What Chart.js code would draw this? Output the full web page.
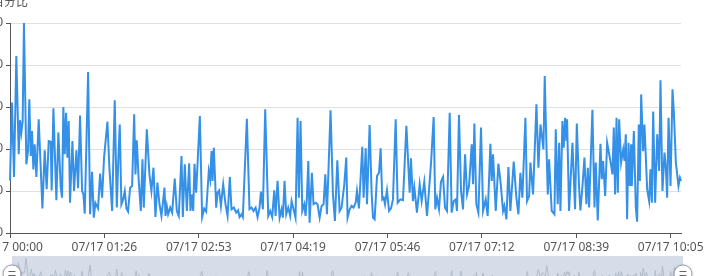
<!DOCTYPE html>
<html>
<head>
<meta charset="utf-8">
<script src="https://cdn.jsdelivr.net/npm/chart.js@4"></script>
<style>
  html, body { margin: 0; padding: 0; background: #fff; }
  body { width: 728px; height: 276px; overflow: hidden; position: relative; }
  #main { position: absolute; left: -40px; top: 0; }
  #zoom { position: absolute; left: 0; top: 256px; }
</style>
</head>
<body>
<canvas id="main" width="768" height="276"></canvas>
<canvas id="zoom" width="700" height="40"></canvas>
<script>
// ---- data (minutes since 07/17 00:00, percentage values) ----
const minutes = [
  0, 1.8, 3.7, 5.8, 8.0, 9.2, 10.4, 11.6, 12.8, 15.0,
  16.5, 17.7, 19.0, 20.2, 21.4, 22.6, 24.2, 26.3, 29.7, 31.8,
  33.6, 35.5, 37.3, 38.2, 39.8, 42.5, 44.3, 46.5, 47.7, 48.9,
  50.2, 51.4, 52.6, 53.8, 55.0, 57.2, 58.7, 60.9, 62.4, 64.2,
  66.1, 67.3, 68.5, 71.6, 73.4, 75.2, 76.8, 78.3, 80.7, 82.6,
  84.4, 86.2, 89.3, 91.1, 93.6, 96.0, 97.9, 99.1, 100.6, 102.1,
  103.7, 105.2, 106.7, 108.2, 110.1, 111.9, 113.8, 115.0, 116.2, 118.0,
  119.9, 121.4,
  122.6, 125.4, 127.8, 129.6, 131.5, 133.3, 135.1, 137.0, 138.8, 140.0,
  141.6, 142.5, 143.7, 144.9, 146.8, 148.6, 151.0, 152.9, 154.7, 157.2,
  158.4, 160.2, 162.1, 164.2, 165.4, 167.0, 167.9, 169.1, 170.6, 171.8,
  174.0, 176.1, 178.0, 179.8, 182.2, 183.5, 184.7, 185.6, 186.8, 189.0,
  190.2, 191.7, 193.3, 195.4, 197.5, 199.4, 201.5, 203.0, 205.2, 207.3,
  209.1, 210.4, 212.2, 213.4, 217.1, 219.5, 221.4, 223.2, 225.1, 226.9,
  228.7, 230.0, 231.8, 233.9, 236.7, 238.5, 240.3, 242.2, 243.4,
  245.2, 247.1, 248.9, 250.1, 251.6, 253.2, 255.0, 256.8, 258.1, 259.9,
  261.7, 263.6, 264.8, 266.3, 267.9, 269.7, 270.9, 272.1, 273.4, 274.6,
  276.7, 278.2, 280.1, 281.9, 283.8, 285.6, 287.4, 289.0, 290.5, 293.8,
  296.0, 297.8, 300.0, 302.1, 303.9, 306.4, 308.2, 309.4, 311.3, 313.1,
  314.9, 316.8, 318.0, 319.8, 322.9, 324.1, 326.0, 327.2, 329.6, 331.5,
  332.7, 334.2, 336.4, 338.2, 339.7, 341.2, 342.5, 343.7, 345.5, 347.4,
  349.2, 351.0, 353.5, 355.3, 357.8, 360.2, 363.3, 366.3,
  367.5, 369.3, 370.6, 373.0, 375.5, 377.3, 379.7, 382.2, 384.0, 385.9,
  388.3, 389.8, 391.4, 393.2, 395.0, 396.9, 398.7, 400.5, 403.0, 404.8,
  406.7, 408.5, 409.7, 411.5, 413.4, 415.2, 417.1, 418.9, 420.7, 423.2,
  424.4, 425.6, 427.4, 429.3, 431.7, 433.6, 436.0, 437.8, 440.3, 441.5,
  442.7, 445.2, 447.6, 449.5, 451.9, 453.1, 455.0, 456.8, 458.6, 461.7,
  464.1, 466.0, 467.8, 469.6, 472.4, 473.9, 475.8, 477.0, 479.4, 482.5,
  484.3, 486.2, 487.7, 488.9,
  490.1, 491.0, 492.9, 494.1, 496.5, 499.0, 500.2, 502.0, 503.3, 504.5,
  506.3, 507.5, 508.8, 510.0, 510.6, 512.4, 515.5, 517.9, 519.5, 521.6,
  522.8, 524.7, 526.5, 528.3, 529.6, 530.8, 533.8, 535.7, 536.9, 538.7,
  541.2, 542.4, 543.6, 545.5, 547.3, 550.3, 552.2, 553.4, 554.6, 555.9,
  557.1, 558.3, 560.1, 562.0, 563.2, 564.4, 565.6, 566.9, 568.1, 569.3,
  569.9, 571.8, 573.6, 574.8, 576.3, 577.3, 578.5, 580.3, 581.5, 584.0,
  585.8, 587.0, 588.3, 589.5, 591.3, 593.2, 595.0, 596.2, 598.0, 599.9,
  601.1, 602.3, 603.6, 605.4, 607.2, 608.4, 610.3, 611.5, 612.7, 614.0,
  615.0
];
const values = [
  25, 62.1, 26.7, 84.3, 37.5, 53.7, 47.8, 53.3, 100, 32.7,
  39.0, 63.7, 36.7, 48.6, 30.3, 42.2, 26.7, 54.1, 11.7, 39.4,
  20.8, 43.8, 43.5, 20.3, 59.4, 15.6, 47.9, 21.6, 16.8, 60.0,
  37.5, 57.3, 35.9, 53.3, 14.4, 43.8, 20.0, 39.4, 21.3, 55.9,
  20.0, 18.4, 9.2, 76.7, 8.9, 29.2, 7.3, 14.3, 11.7, 28.3,
  16.8, 35.9, 53.0, 31.1, 10.5, 63.2, 12.1, 32.7, 51.7, 13.7,
  16.0, 20.0, 11.7, 10.2, 21.6, 22.4, 56.5, 27.9, 44.1, 24.8,
  10.5, 35.1,
  12.1, 49.4, 27.9, 20.0, 31.1, 7.6, 24.0, 13.7, 8.1, 13.7,
  21.6, 8.1, 12.9, 8.9, 12.1, 9.7, 25.9, 10.5, 8.1, 36.7,
  7.6, 32.7, 10.5, 33.2, 10.5, 18.4, 10.5, 33.0, 19.2, 31.9,
  55.7, 7.6, 11.7, 10.2, 29.5, 25.6, 39.0, 24.8, 40.6, 12.1,
  19.2, 20.3, 12.9, 23.2, 13.7, 8.1, 26.7, 11.3, 12.1, 9.7,
  10.8, 7.6, 8.9, 7.6, 54.4, 11.3, 12.1, 10.5, 12.1, 7.6,
  12.1, 19.7, 11.3, 58.9, 8.1, 10.5, 7.6, 20.3, 8.1,
  24.8, 7.3, 11.3, 7.3, 24.8, 8.9, 12.1, 8.1, 15.2, 11.3,
  7.3, 54.9, 16.8, 53.3, 10.5, 13.7, 8.1, 16.8, 34.3, 4.9,
  28.7, 13.7, 14.4, 13.7, 7.3, 12.9, 13.7, 27.9, 8.9, 58.4,
  18.4, 5.7, 34.6, 10.5, 12.1, 23.2, 35.9, 7.3, 11.3, 12.9,
  12.1, 14.4, 20.0, 11.7, 41.0, 16.8, 40.3, 13.7, 51.4, 18.4,
  7.3, 6.5, 27.1, 28.7, 40.3, 16.0, 16.8, 13.7, 20.3, 10.5,
  11.7, 16.0, 54.1, 14.4, 16.0, 15.6, 51.0, 19.2,
  35.6, 15.2, 21.6, 9.7, 23.2, 15.2, 24.4, 8.1, 20.0, 33.5,
  55.2, 11.3, 16.8, 11.3, 24.4, 26.7, 12.1, 10.5, 57.3, 9.7,
  15.2, 16.0, 10.5, 56.2, 20.0, 11.3, 37.5, 18.4, 22.4, 42.2,
  23.2, 52.1, 13.7, 9.7, 50.2, 10.5, 16.0, 8.1, 42.5, 24.8,
  37.5, 10.5, 33.0, 24.8, 10.5, 12.9, 6.5, 31.4, 10.5, 34.0,
  16.8, 8.9, 28.7, 16.8, 54.9, 15.2, 17.6, 33.5, 18.4, 61.3,
  31.1, 51.7, 45.4, 39.8,
  74.8, 54.9, 18.4, 35.1, 10.5, 8.9, 49.4, 13.7, 43.0, 10.5,
  53.3, 40.6, 54.9, 43.8, 54.1, 10.5, 43.0, 11.3, 52.1, 21.6,
  10.8, 22.4, 35.9, 13.7, 31.1, 12.1, 58.7, 12.1, 33.5, 6.0,
  42.5, 25.6, 34.3, 17.6, 43.0, 34.3, 27.9, 50.2, 18.4, 54.9,
  19.2, 54.1, 33.5, 39.8, 34.3, 47.0, 6.5, 43.0, 22.4, 42.2,
  22.4, 48.6, 12.1, 5.4, 51.7, 24.8, 66.0, 39.0, 51.7, 20.8,
  15.2, 30.3, 14.4, 57.8, 14.4, 47.0, 29.5, 72.7, 20.0, 38.3,
  31.1, 16.8, 54.9, 22.4, 68.4, 58.1, 33.5, 27.9, 22.4, 26.3,
  24.8
];
const tickMinutes = [0, 86.5, 173, 259.5, 346, 432.5, 519, 605.5];
const tickLabels = ['07/17 00:00', '07/17 01:26', '07/17 02:53', '07/17 04:19',
                    '07/17 05:46', '07/17 07:12', '07/17 08:39', '07/17 10:05'];
const yTicks = [0, 20, 40, 60, 80, 100];
const axisName = '百分比';

const points = minutes.map((m, i) => ({ x: m, y: values[i] }));

Chart.defaults.font.family = "'Noto Sans', 'Noto Sans CJK SC', sans-serif";
Chart.defaults.font.size = 12;
Chart.defaults.color = '#555';

const axisNamePlugin = {
  id: 'axisName',
  afterDraw(chart) {
    const ctx = chart.ctx;
    ctx.save();
    ctx.font = "12px 'Noto Sans CJK SC', sans-serif";
    ctx.fillStyle = '#555';
    ctx.textAlign = 'center';
    ctx.textBaseline = 'alphabetic';
    ctx.fillText(axisName, chart.chartArea.left, 6);
    ctx.restore();
  }
};

new Chart(document.getElementById('main'), {
  type: 'line',
  data: {
    datasets: [{
      data: points,
      borderColor: '#3590e8',
      borderWidth: 2,
      pointRadius: 0,
      tension: 0,
      fill: false,
      clip: 4
    }]
  },
  options: {
    responsive: false,
    animation: false,
    events: [],
    layout: { padding: { left: 0, right: 47, top: 23, bottom: 0 } },
    plugins: { legend: { display: false }, tooltip: { enabled: false } },
    scales: {
      x: {
        type: 'linear',
        min: 0,
        max: 615,
        afterBuildTicks: (s) => { s.ticks = tickMinutes.map(v => ({ value: v })); },
        afterFit: (s) => { s.height = 43; },
        ticks: {
          autoSkip: false,
          maxRotation: 0,
          padding: 2,
          color: '#555',
          callback: (v, i) => tickLabels[i]
        },
        grid: {
          drawOnChartArea: false,
          drawTicks: true,
          tickLength: 5,
          tickColor: '#555'
        },
        border: { display: true, color: '#555', width: 1 }
      },
      y: {
        min: 0,
        max: 100,
        afterBuildTicks: (s) => { s.ticks = yTicks.map(v => ({ value: v })); },
        afterFit: (s) => { s.width = 50; },
        ticks: { padding: 3, color: '#555' },
        grid: {
          color: '#e0e0e0',
          tickLength: 4,
          tickColor: '#555'
        },
        border: { display: true, color: '#555', width: 1 }
      }
    }
  },
  plugins: [axisNamePlugin]
});

// ---- data zoom slider (overview of the same series) ----
const sliderPlugin = {
  id: 'sliderDecor',
  beforeDatasetsDraw(chart) {
    const { ctx, chartArea } = chart;
    ctx.save();
    ctx.fillStyle = '#d7dde8';
    ctx.fillRect(chartArea.left, 0, chartArea.right - chartArea.left, chart.height);
    ctx.restore();
  },
  afterDraw(chart) {
    const { ctx, chartArea } = chart;
    [chartArea.left, chartArea.right].forEach(x => {
      ctx.save();
      ctx.shadowColor = 'rgba(0,0,0,0.25)';
      ctx.shadowBlur = 3;
      ctx.beginPath();
      ctx.arc(x, 18, 9, 0, Math.PI * 2);
      ctx.fillStyle = '#fff';
      ctx.fill();
      ctx.shadowColor = 'transparent';
      ctx.strokeStyle = '#9aa3b0';
      ctx.lineWidth = 1;
      ctx.stroke();
      ctx.beginPath();
      ctx.moveTo(x - 3.5, 15.5); ctx.lineTo(x + 3.5, 15.5);
      ctx.moveTo(x - 3.5, 19.5); ctx.lineTo(x + 3.5, 19.5);
      ctx.strokeStyle = '#666';
      ctx.stroke();
      ctx.restore();
    });
  }
};

new Chart(document.getElementById('zoom'), {
  type: 'line',
  data: {
    datasets: [{
      data: points,
      borderColor: '#b3bccb',
      borderWidth: 1,
      pointRadius: 0,
      tension: 0,
      fill: false
    }]
  },
  options: {
    responsive: false,
    animation: false,
    events: [],
    layout: { padding: { left: 12, right: 17, top: 2, bottom: 8 } },
    plugins: { legend: { display: false }, tooltip: { enabled: false } },
    scales: {
      x: { type: 'linear', min: 0, max: 615, display: false },
      y: { min: 0, max: 100, display: false }
    }
  },
  plugins: [sliderPlugin]
});
</script>
</body>
</html>
